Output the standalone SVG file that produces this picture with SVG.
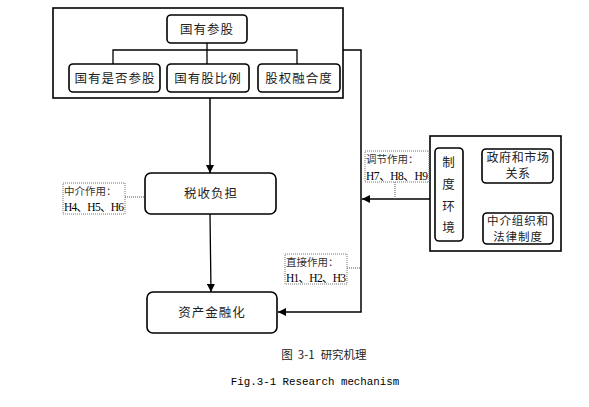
<svg xmlns="http://www.w3.org/2000/svg" width="589" height="407" viewBox="0 0 589 407">
<style>
.box{fill:#fff;stroke:#000;stroke-width:1.6}
.frame{fill:#fff;stroke:#000;stroke-width:1.6}
.t{font-family:"Noto Sans CJK SC","Liberation Serif",serif;font-size:12.5px;fill:#222;text-anchor:middle;letter-spacing:1px}
.t2{font-family:"Noto Sans CJK SC","Liberation Serif",serif;font-size:12px;fill:#222;text-anchor:middle;letter-spacing:0.6px}
.t3{font-family:"Noto Sans CJK SC","Liberation Serif",serif;font-size:11.5px;fill:#222;text-anchor:middle;letter-spacing:0.9px}
.lab{font-family:"Noto Sans CJK SC",serif;font-size:10.5px;fill:#333}
.h{font-family:"Liberation Serif","Noto Sans CJK SC",serif;font-size:11.5px;fill:#000}
.dbox{fill:#fff;stroke:#777;stroke-width:1;stroke-dasharray:1 1}
.dl{fill:none;stroke:#555;stroke-width:1;stroke-dasharray:1 1}
.ln{fill:none;stroke:#000;stroke-width:1.5}
.thin{fill:none;stroke:#000;stroke-width:1.3}
.cap{font-family:"Noto Sans CJK SC",serif;font-size:11.5px;fill:#222;text-anchor:middle}
.capen{font-family:"Liberation Mono",monospace;font-size:10.8px;fill:#000;text-anchor:middle}
</style>
<defs>
<marker id="arr" viewBox="0 0 10 10" refX="10" refY="5" markerWidth="8" markerHeight="8" markerUnits="userSpaceOnUse" orient="auto">
<path d="M0,0 L10,5 L0,10 z" fill="#000"/>
</marker>
</defs>
<rect x="0" y="0" width="589" height="407" fill="#fff"/>

<g id="state-ownership-frame">
<rect class="frame" x="53" y="8" width="290" height="90"/>
</g>
<g id="connectors">
<polyline class="thin" points="113,64 113,50 297,50 297,64"/>
<line class="thin" x1="207" y1="43" x2="207" y2="64"/>
<polyline class="ln" points="343,50 361,50 361,312 278,312" marker-end="url(#arr)"/>
<line class="ln" x1="210" y1="98" x2="210" y2="173" marker-end="url(#arr)"/>
<line class="thin" x1="210" y1="214" x2="211" y2="292" marker-end="url(#arr)"/>
<line class="ln" x1="430" y1="199" x2="362" y2="199" marker-end="url(#arr)"/>
<polyline class="ln" points="463,199 475,199"/>
<polyline class="ln" points="482,167 475,167 475,230 483,230"/>
<line class="dl" x1="125" y1="197" x2="145" y2="197"/>
<line class="dl" x1="347" y1="268" x2="361" y2="268"/>
<line class="dl" x1="395" y1="182" x2="395" y2="199"/>
</g>
<g id="n-guoyoucangu">
<rect class="box" x="167" y="15" width="80" height="28" rx="4"/>
<text class="t" x="207" y="34">国有参股</text>
</g>
<g id="n-shifoucangu">
<rect class="box" x="69" y="64" width="91" height="28" rx="4"/>
<text class="t" x="115" y="83">国有是否参股</text>
</g>
<g id="n-bili">
<rect class="box" x="167" y="64" width="82" height="28" rx="4"/>
<text class="t" x="208" y="83">国有股比例</text>
</g>
<g id="n-ronghedu">
<rect class="box" x="258" y="64" width="82" height="28" rx="4"/>
<text class="t" x="299" y="83">股权融合度</text>
</g>
<g id="n-shuishou">
<rect class="box" x="145" y="173" width="131" height="41" rx="6"/>
<text class="t" x="211" y="198">税收负担</text>
</g>
<g id="n-jinronghua">
<rect class="box" x="147" y="292" width="130" height="41" rx="6"/>
<text class="t" x="212" y="317">资产金融化</text>
</g>
<g id="institution-frame">
<rect class="frame" x="430" y="136" width="131" height="115"/>
</g>
<g id="n-zhidu">
<rect class="box" x="435" y="148" width="28" height="93" rx="4"/>
<text class="t" x="449" y="167">制</text>
<text class="t" x="449" y="189">度</text>
<text class="t" x="449" y="211">环</text>
<text class="t" x="449" y="232">境</text>
</g>
<g id="n-zhengfu">
<rect class="box" x="482" y="149" width="71" height="34" rx="4"/>
<text class="t2" x="518" y="162">政府和市场</text>
<text class="t2" x="518" y="178">关系</text>
</g>
<g id="n-zhongjie">
<rect class="box" x="483" y="213" width="70" height="31" rx="4"/>
<text class="t3" x="518" y="225">中介组织和</text>
<text class="t3" x="518" y="241">法律制度</text>
</g>
<g id="label-mediation">
<rect class="dbox" x="63" y="183" width="62" height="31"/>
<text class="lab" x="64" y="195">中介作用：</text>
<text class="h" x="64" y="211" textLength="60" lengthAdjust="spacing">H4、H5、H6</text>
</g>
<g id="label-direct">
<rect class="dbox" x="285" y="254" width="62" height="30"/>
<text class="lab" x="286" y="266">直接作用：</text>
<text class="h" x="286" y="282" textLength="60" lengthAdjust="spacing">H1、H2、H3</text>
</g>
<g id="label-moderation">
<rect class="dbox" x="365" y="151" width="64" height="31"/>
<text class="lab" x="366" y="163">调节作用：</text>
<text class="h" x="366" y="180" textLength="62" lengthAdjust="spacing">H7、H8、H9</text>
</g>
<text class="cap" x="324" y="359">图<tspan dx="5">3-1</tspan><tspan dx="6">研究机理</tspan></text>
<text class="capen" x="315" y="385">Fig.3-1 Research mechanism</text>
</svg>
